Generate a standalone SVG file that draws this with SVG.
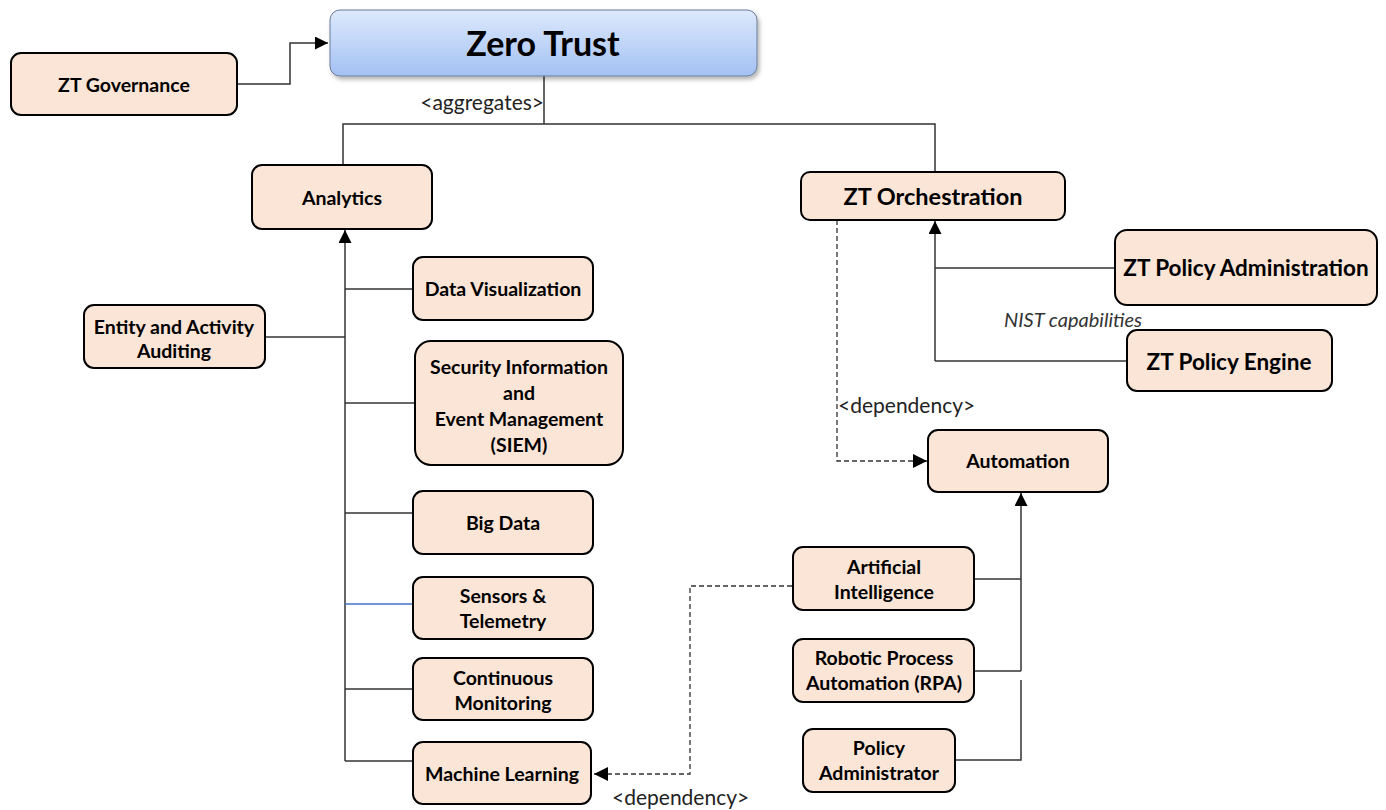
<svg xmlns="http://www.w3.org/2000/svg" width="1386" height="810" viewBox="0 0 1386 810">
<defs>
<linearGradient id="blue" x1="0" y1="0" x2="0" y2="1">
<stop offset="0" stop-color="#dde9fc"/>
<stop offset="1" stop-color="#a3c1f3"/>
</linearGradient>
<filter id="sh" x="-10%" y="-20%" width="120%" height="150%">
<feDropShadow dx="2" dy="3" stdDeviation="2" flood-color="#000" flood-opacity="0.3"/>
</filter>
<marker id="arr" viewBox="0 0 10 10" refX="10" refY="5" markerWidth="13" markerHeight="13" markerUnits="userSpaceOnUse" orient="auto">
<path d="M0,0 L10,5 L0,10 Z" fill="#000"/>
</marker>
<marker id="arrL" viewBox="0 0 10 10" refX="10" refY="5" markerWidth="14" markerHeight="14" markerUnits="userSpaceOnUse" orient="auto">
<path d="M0,0 L10,5 L0,10 Z" fill="#000"/>
</marker>
</defs>
<style>
.box{fill:#fbe5d6;stroke:#000;stroke-width:2}
.t{font-family:Lato,"Liberation Sans",sans-serif;font-weight:bold;font-size:19.5px;fill:#000;text-anchor:middle}
.big{font-size:23.5px}
.mid{font-size:22.5px}
.huge{font-size:34px}
.lbl{font-family:Lato,"Liberation Sans",sans-serif;font-size:21px;fill:#222}
.it{font-style:italic;font-size:20px;fill:#333}
.ln{fill:none;stroke:#333;stroke-width:1.5}
.dash{fill:none;stroke:#333;stroke-width:1.3;stroke-dasharray:5,3}
</style>
<rect width="1386" height="810" fill="#fff"/>

<g id="connectors">
<polyline class="ln" points="237,84 290,84 290,43 328,43" marker-end="url(#arr)"/>
<polyline class="ln" points="544,76 544,124"/>
<polyline class="ln" points="343,165 343,124 935,124 935,172"/>
<line class="ln" x1="345" y1="761" x2="345" y2="230" marker-end="url(#arr)"/>
<line class="ln" x1="345" y1="289" x2="413" y2="289"/>
<line class="ln" x1="265" y1="337" x2="345" y2="337"/>
<line class="ln" x1="345" y1="403" x2="415" y2="403"/>
<line class="ln" x1="345" y1="513" x2="413" y2="513"/>
<line x1="345" y1="604" x2="413" y2="604" stroke="#4472c4" stroke-width="1.3"/>
<line class="ln" x1="345" y1="689" x2="413" y2="689"/>
<line class="ln" x1="345" y1="761" x2="413" y2="761"/>
<polyline class="dash" points="792,586 690,586 690,774 594,774" marker-end="url(#arrL)"/>
<line class="ln" x1="935" y1="361" x2="935" y2="221" marker-end="url(#arr)"/>
<line class="ln" x1="935" y1="268" x2="1115" y2="268"/>
<line class="ln" x1="935" y1="361" x2="1127" y2="361"/>
<polyline class="dash" points="837,220 837,461 927,461" marker-end="url(#arrL)"/>
<line class="ln" x1="1021" y1="671" x2="1021" y2="493" marker-end="url(#arr)"/>
<line class="ln" x1="974" y1="579" x2="1021" y2="579"/>
<line class="ln" x1="974" y1="671" x2="1021" y2="671"/>
<polyline class="ln" points="955,760 1021,760 1021,680" stroke="#666"/>
<text class="lbl" x="544" y="110" text-anchor="end">&lt;aggregates&gt;</text>
<text class="lbl it" x="1004" y="327">NIST capabilities</text>
<text class="lbl" x="838" y="413">&lt;dependency&gt;</text>
<text class="lbl" x="612" y="805">&lt;dependency&gt;</text>
</g>

<g id="zero-trust">
<rect x="330" y="10" width="427" height="66" rx="10" fill="url(#blue)" stroke="#6b7c99" stroke-width="1" filter="url(#sh)"/>
<text class="t huge" x="543" y="56">Zero Trust</text>
</g>
<g id="zt-governance">
<rect class="box" x="11" y="53" width="226" height="62" rx="10"/>
<text class="t" x="124" y="92">ZT Governance</text>
</g>
<g id="analytics">
<rect class="box" x="252" y="165" width="180" height="64" rx="10"/>
<text class="t" x="342" y="205">Analytics</text>
</g>
<g id="data-visualization">
<rect class="box" x="413" y="257" width="180" height="63" rx="10"/>
<text class="t" x="503" y="296">Data Visualization</text>
</g>
<g id="entity-auditing">
<rect class="box" x="84" y="305" width="181" height="63" rx="10"/>
<text class="t" x="174" y="334">Entity and Activity</text>
<text class="t" x="174" y="358">Auditing</text>
</g>
<g id="siem">
<rect class="box" x="415" y="341" width="208" height="124" rx="16"/>
<text class="t" x="519" y="374">Security Information</text>
<text class="t" x="519" y="400">and</text>
<text class="t" x="519" y="426">Event Management</text>
<text class="t" x="519" y="452">(SIEM)</text>
</g>
<g id="big-data">
<rect class="box" x="413" y="491" width="180" height="63" rx="10"/>
<text class="t" x="503" y="530">Big Data</text>
</g>
<g id="sensors">
<rect class="box" x="413" y="577" width="180" height="62" rx="10"/>
<text class="t" x="503" y="603">Sensors &amp;</text>
<text class="t" x="503" y="628">Telemetry</text>
</g>
<g id="continuous-monitoring">
<rect class="box" x="413" y="658" width="180" height="62" rx="10"/>
<text class="t" x="503" y="685">Continuous</text>
<text class="t" x="503" y="710">Monitoring</text>
</g>
<g id="machine-learning">
<rect class="box" x="413" y="742" width="178" height="62" rx="10"/>
<text class="t" x="502" y="781">Machine Learning</text>
</g>
<g id="zt-orchestration">
<rect class="box" x="801" y="172" width="264" height="48" rx="9"/>
<text class="t big" x="933" y="205">ZT Orchestration</text>
</g>
<g id="zt-policy-administration">
<rect class="box" x="1115" y="230" width="262" height="75" rx="12"/>
<text class="t mid" x="1246" y="276">ZT Policy Administration</text>
</g>
<g id="zt-policy-engine">
<rect class="box" x="1127" y="330" width="205" height="61" rx="10"/>
<text class="t mid" x="1229" y="370">ZT Policy Engine</text>
</g>
<g id="automation">
<rect class="box" x="928" y="430" width="180" height="62" rx="10"/>
<text class="t" x="1018" y="468">Automation</text>
</g>
<g id="artificial-intelligence">
<rect class="box" x="793" y="547" width="181" height="63" rx="10"/>
<text class="t" x="884" y="574">Artificial</text>
<text class="t" x="884" y="599">Intelligence</text>
</g>
<g id="rpa">
<rect class="box" x="793" y="639" width="181" height="63" rx="10"/>
<text class="t" x="884" y="665">Robotic Process</text>
<text class="t" x="884" y="690">Automation (RPA)</text>
</g>
<g id="policy-administrator">
<rect class="box" x="803" y="729" width="152" height="63" rx="10"/>
<text class="t" x="879" y="755">Policy</text>
<text class="t" x="879" y="780">Administrator</text>
</g>
</svg>
